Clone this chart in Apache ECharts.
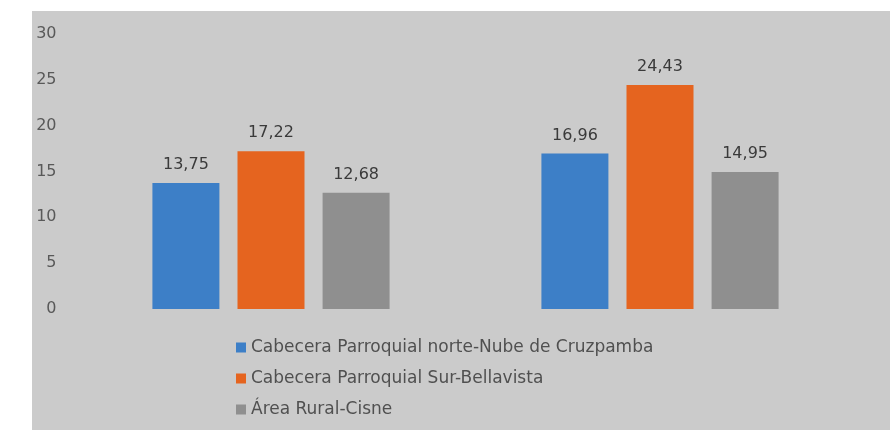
<!DOCTYPE html>
<html>
<head>
<meta charset="utf-8">
<script src="https://cdn.jsdelivr.net/npm/echarts@6/dist/echarts.min.js"></script>
<style>
html,body{margin:0;padding:0;background:#ffffff;}
#chart{width:894px;height:430px;}
</style>
</head>
<body>
<div id="chart"></div>
<script>
const categories = ['Grupo 1', 'Grupo 2'];
const seriesNames = [
  'Cabecera Parroquial norte-Nube de Cruzpamba',
  'Cabecera Parroquial Sur-Bellavista',
  'Área Rural-Cisne'
];
const norteValues = [13.75, 16.96];
const surValues = [17.22, 24.43];
const ruralValues = [12.68, 14.95];
const yTicks = [0, 5, 10, 15, 20, 25, 30];
const colors = ['#3d7fc7', '#e5641f', '#8f8f8f'];
const FONT = "'DejaVu Sans', Verdana, sans-serif";

const chart = echarts.init(document.getElementById('chart'));
const fmt = p => p.value.toFixed(2).replace('.', ',');
const mk = (name, data, color) => ({
  name: name,
  type: 'bar',
  data: data,
  barWidth: 67,
  barGap: '27%',
  itemStyle: { color: color },
  label: {
    show: true,
    position: 'top',
    distance: 10,
    formatter: fmt,
    fontFamily: FONT,
    fontSize: 16,
    color: '#3a3a3a'
  }
});
chart.setOption({
  animation: false,
  backgroundColor: '#ffffff',
  graphic: [{
    type: 'rect',
    left: 32, top: 11,
    shape: { width: 858, height: 419 },
    style: { fill: '#cbcbcb' },
    z: -100,
    silent: true
  }],
  grid: { left: 76.5, right: 39.5, top: 34, bottom: 121 },
  legend: {
    orient: 'vertical',
    left: 231,
    top: 334,
    itemWidth: 10,
    itemHeight: 10,
    itemGap: 14,
    icon: 'rect',
    data: seriesNames,
    textStyle: { fontFamily: FONT, fontSize: 17, color: '#505050' }
  },
  xAxis: {
    type: 'category',
    data: categories,
    axisLine: { show: false },
    axisTick: { show: false },
    axisLabel: { show: false }
  },
  yAxis: {
    type: 'value',
    min: yTicks[0],
    max: yTicks[yTicks.length - 1],
    interval: 5,
    splitLine: { show: false },
    axisLine: { show: false },
    axisTick: { show: false },
    axisLabel: { fontFamily: FONT, fontSize: 16, color: '#595959', margin: 20 }
  },
  series: [
    mk(seriesNames[0], norteValues, colors[0]),
    mk(seriesNames[1], surValues, colors[1]),
    mk(seriesNames[2], ruralValues, colors[2])
  ]
});
</script>
</body>
</html>
